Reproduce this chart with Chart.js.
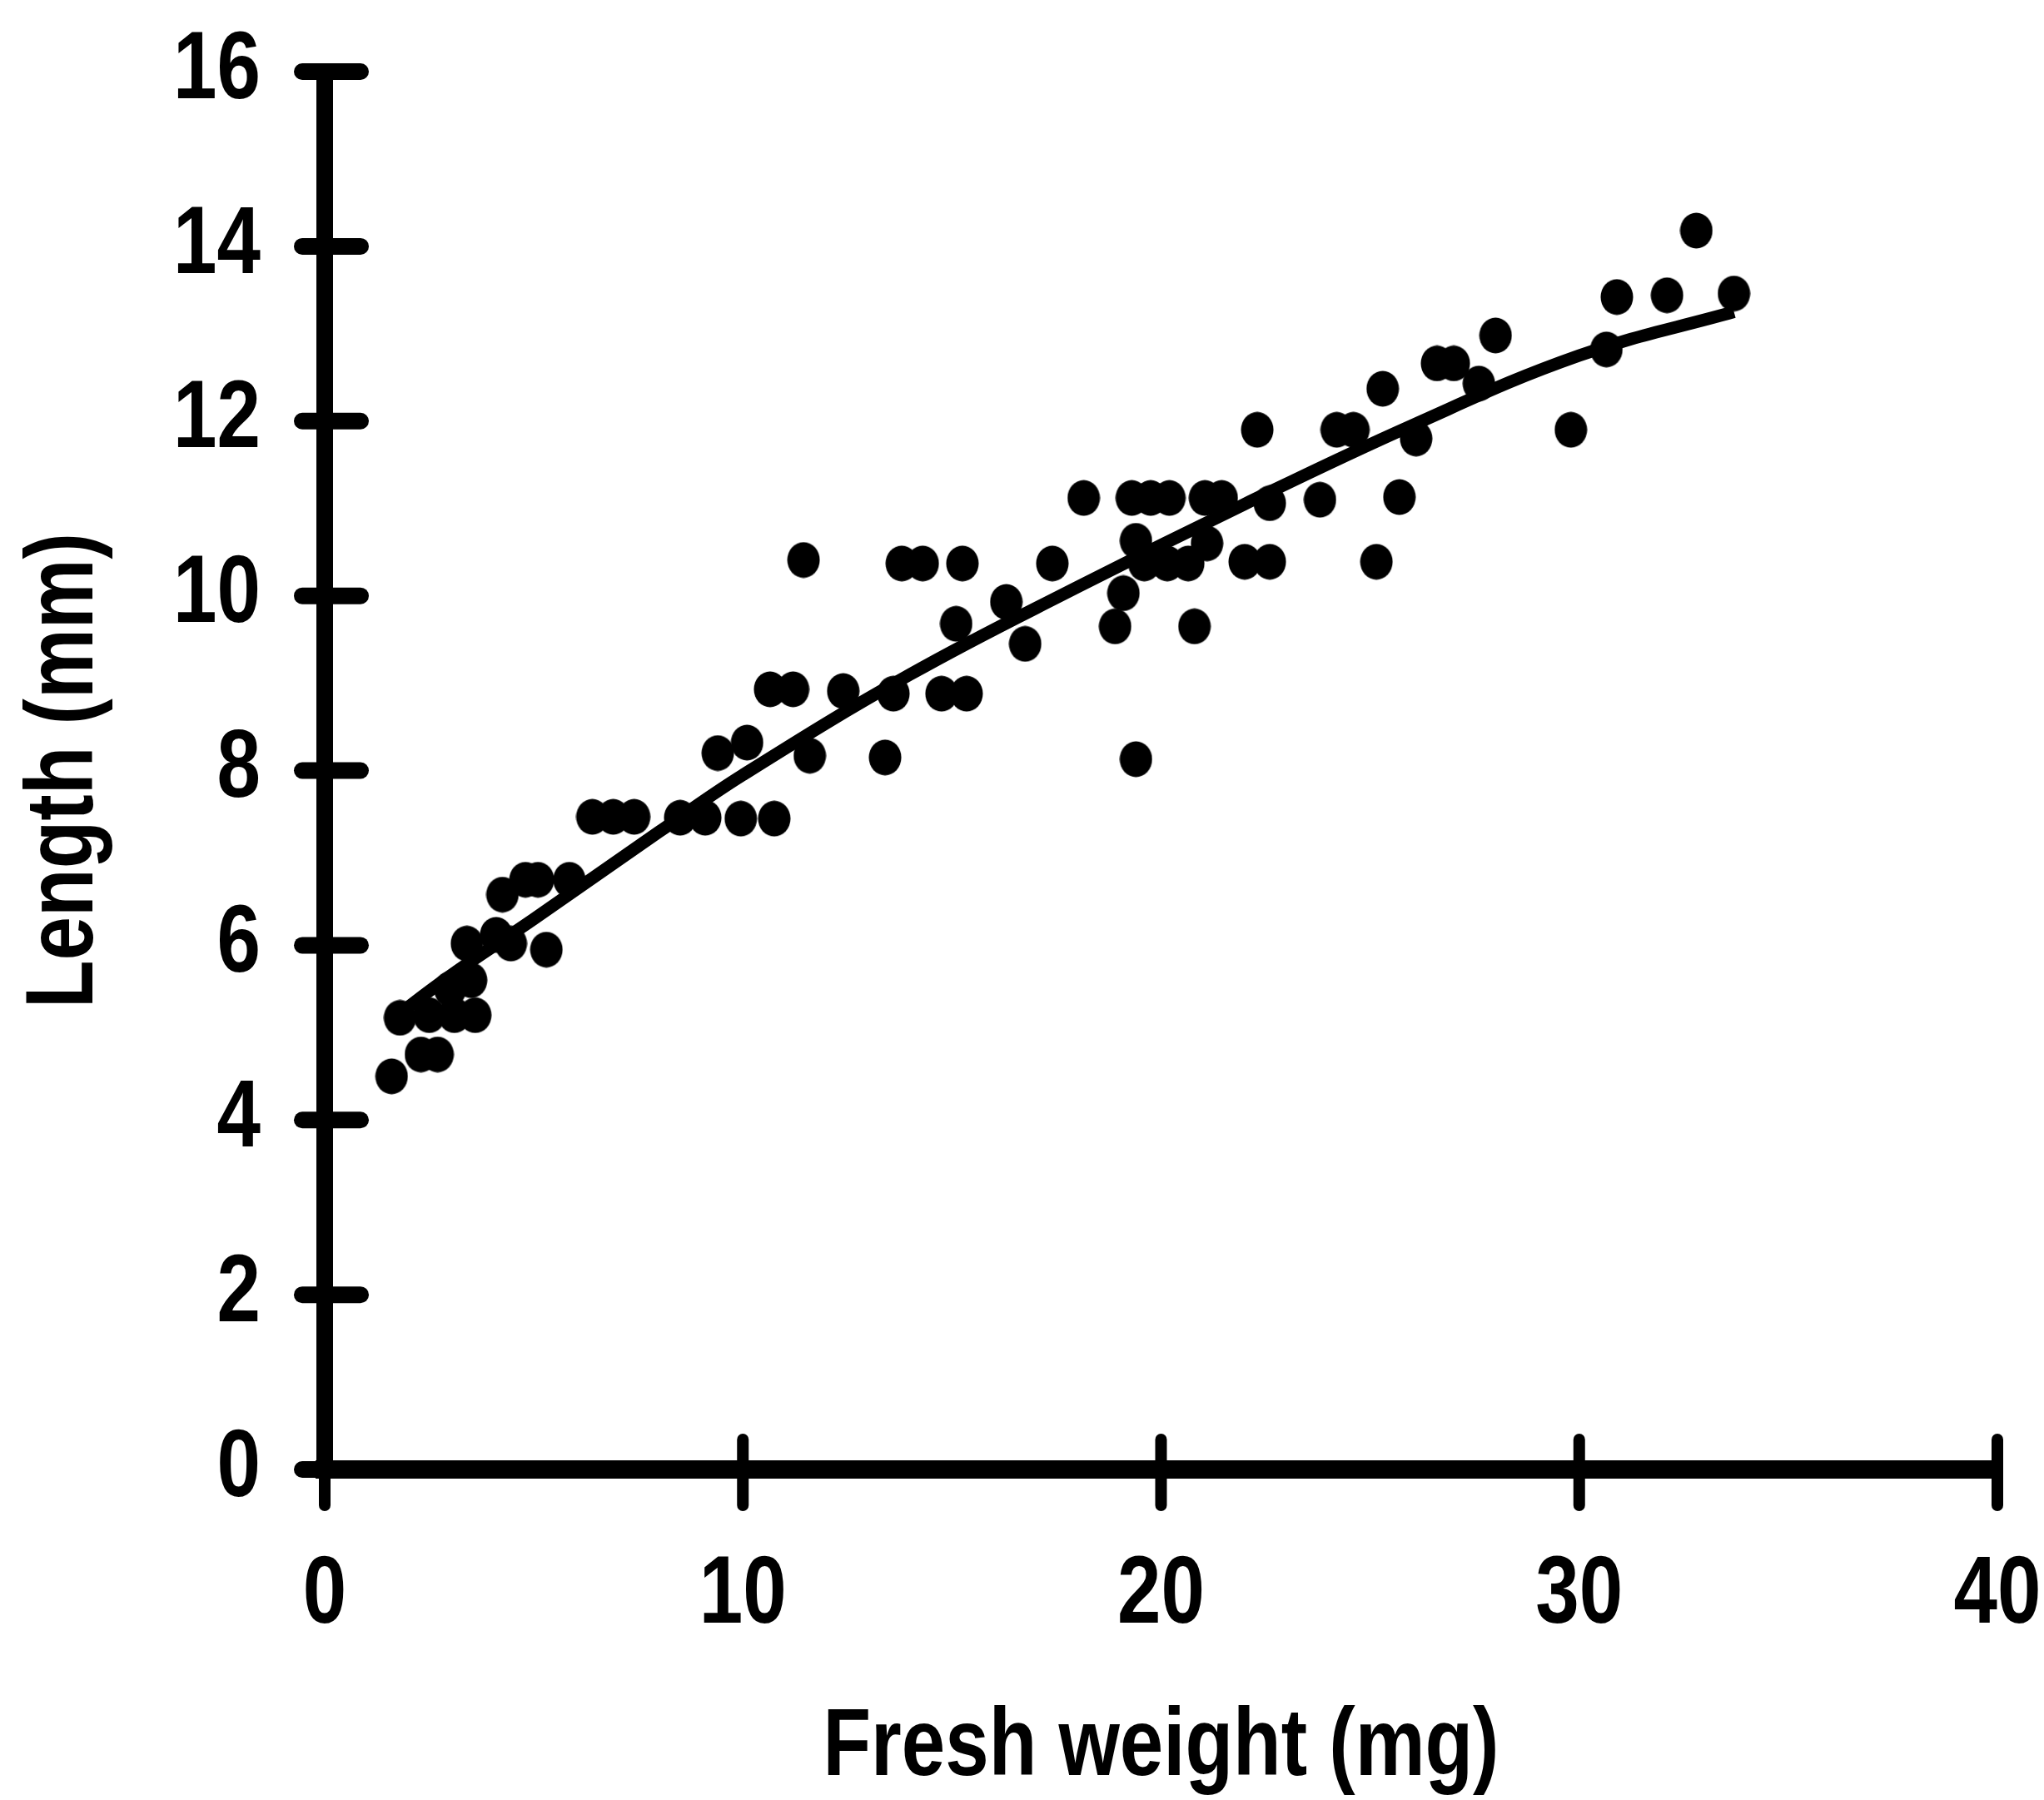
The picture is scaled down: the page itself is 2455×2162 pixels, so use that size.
<!DOCTYPE html>
<html>
<head>
<meta charset="utf-8">
<script src="https://cdn.jsdelivr.net/npm/chart.js@4.4.1/dist/chart.umd.min.js"></script>
<style>
  html, body { margin: 0; padding: 0; background: #fff; }
  #wrap { width: 2455px; height: 2162px; }
</style>
</head>
<body>
<div id="wrap"><canvas id="myChart" width="2455" height="2162"></canvas></div>
<script>
const freshWeight = [
    1.6, 2.3, 2.7,
    1.8, 2.5, 3.1, 3.6, 3.0, 3.5,
    3.4, 4.1, 4.45, 5.3,
    4.25, 4.8, 5.1, 5.85,
    6.4, 6.9, 7.4, 8.5, 9.1, 9.95, 10.75,
    9.4, 10.1, 11.6, 13.4,
    10.65, 11.2, 12.4, 13.6, 14.75, 15.35,
    15.1, 16.3, 16.75,
    11.45, 13.8, 14.3, 15.25, 17.4, 19.6, 20.15, 20.65, 22.0, 22.6, 25.15,
    19.4, 21.1,
    18.9, 20.8, 19.1, 19.4,
    18.15, 19.3, 19.75, 20.2, 21.05, 21.45, 22.6, 23.8, 25.7,
    22.3, 24.2, 24.6, 26.1, 29.8,
    25.3, 26.6, 27.0, 27.6, 28.0, 30.65,
    30.9, 32.1, 33.7, 32.8
];
const bodyLength = [
    4.5, 4.75, 4.75,
    5.17, 5.2, 5.2, 5.2, 5.5, 5.6,
    6.02, 6.12, 6.02, 5.95,
    6.58, 6.75, 6.75, 6.75,
    7.47, 7.47, 7.47, 7.46, 7.46, 7.45, 7.45,
    8.2, 8.32, 8.17, 8.15,
    8.93, 8.93, 8.91, 8.88, 8.88, 8.88,
    9.68, 9.93, 9.45,
    10.41, 10.37, 10.37, 10.37, 10.37, 10.37, 10.37, 10.37, 10.39, 10.39, 10.39,
    10.63, 10.6,
    9.65, 9.65, 10.03, 8.13,
    11.12, 11.12, 11.12, 11.12, 11.12, 11.12, 11.06, 11.1, 11.13,
    11.9, 11.9, 11.9, 11.8, 11.9,
    12.37, 12.66, 12.66, 12.43, 12.98, 12.82,
    13.42, 13.44, 13.46, 14.18
];

// fitted curve, points
const fitWeight = [1.6, 3, 5, 8, 10, 14, 18, 22, 26, 30, 33.7];
const fitLength = [5.15, 5.65, 6.3, 7.3, 7.95, 9.1, 10.1, 11.05, 11.95, 12.75, 13.25];

const xTicks = [0, 10, 20, 30, 40];
const yTicks = [0, 2, 4, 6, 8, 10, 12, 14, 16];

const FONT = "'Liberation Sans', Arial, sans-serif";

const canvas = document.getElementById('myChart');
const ctx2d = canvas.getContext('2d');

// the original lettering is a narrow grotesque, squeeze the text a bit
const rawFillText = ctx2d.fillText;
ctx2d.fillText = function (text, x, y, maxWidth) {
    const w = this.measureText(text).width * 0.82;
    rawFillText.call(this, text, x, y, maxWidth !== undefined ? Math.min(maxWidth, w) : w);
};

// dots in the print are slightly taller than wide
const dot = document.createElement('canvas');
dot.width = 40;
dot.height = 44;
const dctx = dot.getContext('2d');
dctx.fillStyle = '#000';
dctx.beginPath();
dctx.ellipse(20, 22, 19.5, 21.5, 0, 0, Math.PI * 2);
dctx.fill();

// tick marks that cross the axis line
const crossTicks = {
    id: 'crossTicks',
    afterDraw(chart) {
        const ctx = chart.ctx;
        const x = chart.scales.x;
        const y = chart.scales.y;
        ctx.save();
        ctx.strokeStyle = '#000';
        ctx.lineCap = 'round';
        ctx.lineWidth = 20;
        y.ticks.forEach(t => {
            const py = y.getPixelForValue(t.value);
            ctx.beginPath();
            ctx.moveTo(x.left - 27, py);
            ctx.lineTo(x.left + 43, py);
            ctx.stroke();
        });
        ctx.lineWidth = 14;
        x.ticks.forEach(t => {
            const px = x.getPixelForValue(t.value);
            ctx.beginPath();
            ctx.moveTo(px, y.bottom - 36);
            ctx.lineTo(px, y.bottom + 43);
            ctx.stroke();
        });
        ctx.restore();
    }
};

const points = freshWeight.map((w, i) => ({ x: w, y: bodyLength[i] }));
const fit = fitWeight.map((w, i) => ({ x: w, y: fitLength[i] }));

new Chart(canvas, {
    type: 'scatter',
    data: {
        datasets: [
            {
                type: 'line',
                data: fit,
                borderColor: '#000',
                borderWidth: 15,
                pointRadius: 0,
                tension: 0.4,
                fill: false
            },
            {
                data: points,
                backgroundColor: '#000',
                borderWidth: 0,
                pointRadius: 20,
                pointStyle: dot
            }
        ]
    },
    options: {
        responsive: false,
        animation: false,
        devicePixelRatio: 1,
        layout: { padding: { top: 86, right: 56, left: 0, bottom: 0 } },
        plugins: { legend: { display: false }, tooltip: { enabled: false } },
        scales: {
            x: {
                type: 'linear',
                min: 0,
                max: 40,
                afterBuildTicks: s => { s.ticks = xTicks.map(v => ({ value: v })); },
                afterFit: s => {
                    s.height = 397;
                    s.paddingLeft = 0;
                    s.paddingRight = 0;
                },
                grid: { drawOnChartArea: false, drawTicks: true, tickLength: 95, tickColor: 'rgba(0,0,0,0)' },
                border: { color: '#000', width: 22 },
                ticks: {
                    color: '#000',
                    padding: 0,
                    maxRotation: 0,
                    font: { family: FONT, size: 115, weight: 'bold', lineHeight: 1 }
                },
                title: {
                    display: true,
                    text: 'Fresh weight (mg)',
                    color: '#000',
                    padding: { top: 0, bottom: 4 },
                    font: { family: FONT, size: 115, weight: 'bold', lineHeight: 1 }
                }
            },
            y: {
                type: 'linear',
                min: 0,
                max: 16,
                afterBuildTicks: s => { s.ticks = yTicks.map(v => ({ value: v })); },
                afterFit: s => {
                    s.width = 390;
                    s.paddingTop = 0;
                    s.paddingBottom = 0;
                },
                grid: { drawOnChartArea: false, drawTicks: true, tickLength: 77, tickColor: 'rgba(0,0,0,0)' },
                border: { color: '#000', width: 20 },
                ticks: {
                    color: '#000',
                    padding: 0,
                    font: { family: FONT, size: 115, weight: 'bold', lineHeight: 1 }
                },
                title: {
                    display: true,
                    text: 'Length (mm)',
                    color: '#000',
                    padding: { top: 22, bottom: 0 },
                    font: { family: FONT, size: 115, weight: 'bold', lineHeight: 1 }
                }
            }
        }
    },
    plugins: [crossTicks]
});
</script>
</body>
</html>
